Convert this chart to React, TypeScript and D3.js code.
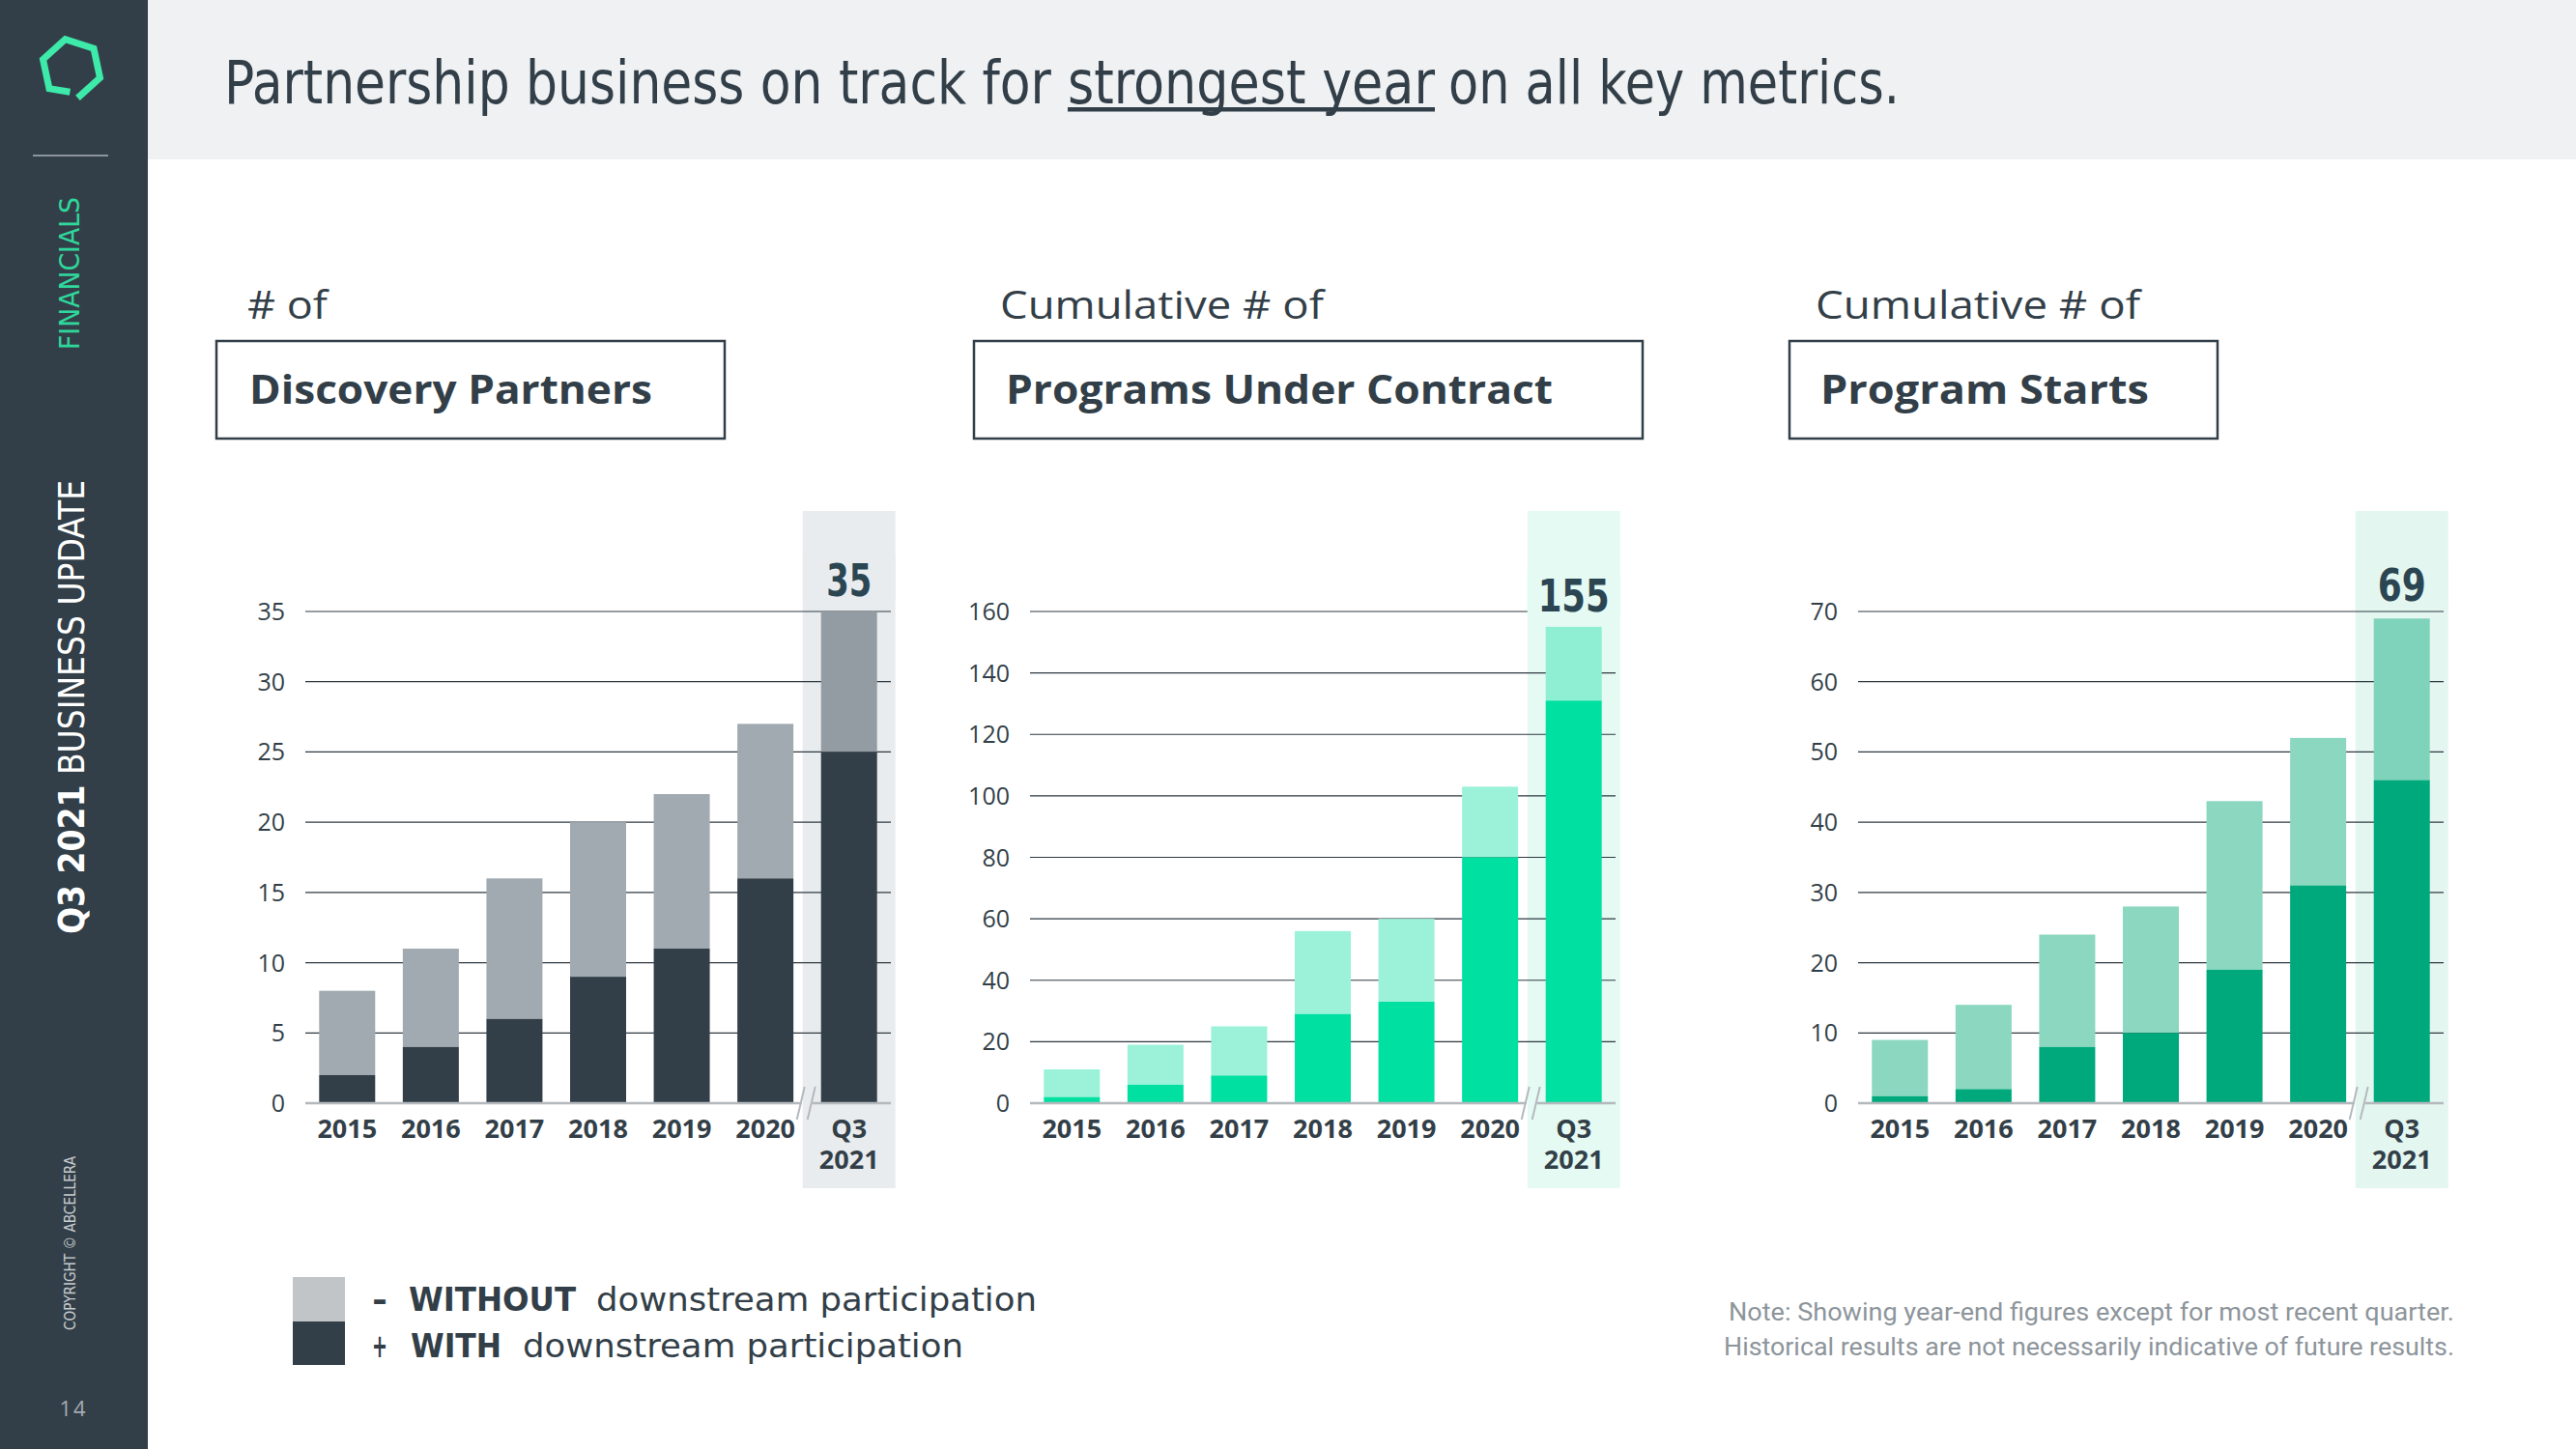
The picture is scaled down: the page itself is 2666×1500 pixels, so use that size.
import React, { useLayoutEffect, useRef, useState } from 'react';
import * as d3 from 'd3';

// ---------- data ----------
const categories = ['2015', '2016', '2017', '2018', '2019', '2020', 'Q3 2021'];

const partnersWith = [2, 4, 6, 9, 11, 16, 25];
const partnersTotal = [8, 11, 16, 20, 22, 27, 35];
const partnersTicks = [0, 5, 10, 15, 20, 25, 30, 35];

const contractWith = [2, 6, 9, 29, 33, 80, 131];
const contractTotal = [11, 19, 25, 56, 60, 103, 155];
const contractTicks = [0, 20, 40, 60, 80, 100, 120, 140, 160];

const startsWith = [1, 2, 8, 10, 19, 31, 46];
const startsTotal = [9, 14, 24, 28, 43, 52, 69];
const startsTicks = [0, 10, 20, 30, 40, 50, 60, 70];

const legendLabels = ['WITHOUT', 'WITH'];
const noteLines = [
  'Note: Showing year-end figures except for most recent quarter.',
  'Historical results are not necessarily indicative of future results.',
];
const titleParts = ['Partnership business on track for', 'strongest year', 'on all key metrics.'];

// ---------- styling ----------
const SLATE = '#333f48';
const COND = "'DejaVu Sans Condensed', Roboto, sans-serif";
const SANS = "'Open Sans', Lato, sans-serif";

const panels = [
  {
    prefix: '# of', prefixLen: 83, title: 'Discovery Partners', titleLen: 417,
    boxX: 224, boxW: 526, textX: 256, boldX: 258,
    x0: 316, withV: partnersWith, totalV: partnersTotal, ticks: partnersTicks,
    band: '#e9ecee', light: '#a1aab0', lightLast: '#949ca3', dark: '#333f48',
    labelY: 617, labelLen: 47,
  },
  {
    prefix: 'Cumulative # of', prefixLen: 335, title: 'Programs Under Contract', titleLen: 566,
    boxX: 1008, boxW: 692, textX: 1035, boldX: 1041,
    x0: 1066, withV: contractWith, totalV: contractTotal, ticks: contractTicks,
    band: '#e4faf3', light: '#9bf2d8', lightLast: '#8eefd2', dark: '#00e0a0',
    labelY: 633, labelLen: 74,
  },
  {
    prefix: 'Cumulative # of', prefixLen: 336, title: 'Program Starts', titleLen: 340,
    boxX: 1852, boxW: 443, textX: 1879, boldX: 1884,
    x0: 1923, withV: startsWith, totalV: startsTotal, ticks: startsTicks,
    band: '#e4f6f0', light: '#8bd7c0', lightLast: '#7fd3ba', dark: '#00a97b',
    labelY: 622, labelLen: 50,
  },
];

const Y0 = 1142;
const YTOP = 633;
const GRID_W = 606;

// text horizontally scaled to an exact width (keeps its bounding box honest)
function FitText({ x, y, width, children, ...rest }: any) {
  const ref = useRef<SVGTextElement>(null);
  const [k, setK] = useState(1);
  useLayoutEffect(() => {
    if (ref.current) {
      const w = ref.current.getComputedTextLength();
      if (w > 0) setK(width / w);
    }
  }, [width]);
  return (
    <text ref={ref} transform={`translate(${x},${y}) scale(${k},1)`} {...rest}>{children}</text>
  );
}

function Panel({ p }: { p: any }) {
  const x = d3.scaleBand<string>()
    .domain(categories)
    .range([p.x0, p.x0 + GRID_W])
    .paddingInner(0.33)
    .paddingOuter(0.165);
  const maxTick = p.ticks[p.ticks.length - 1];
  const y = d3.scaleLinear().domain([0, maxTick]).range([Y0, YTOP]);
  const bw = x.bandwidth();
  const last = categories[categories.length - 1];
  const bandL = (x(last) as number) - 19;
  const bandW = bw + 38;
  const lastCenter = (x(last) as number) + bw / 2;
  const total = p.totalV[p.totalV.length - 1];

  return (
    <g>
      {/* header */}
      <text x={p.textX} y={330} fontFamily={SANS} fontSize={41} fill={SLATE}
        textLength={p.prefixLen} lengthAdjust="spacingAndGlyphs">{p.prefix}</text>
      <rect x={p.boxX} y={353} width={p.boxW} height={101} fill="#fff" stroke={SLATE} strokeWidth={2.5} />
      <text x={p.boldX} y={418} fontFamily={SANS} fontWeight={700} fontSize={42} fill={SLATE}
        textLength={p.titleLen} lengthAdjust="spacingAndGlyphs">{p.title}</text>

      {/* highlight band */}
      <rect x={bandL} y={529} width={bandW} height={701} fill={p.band} />

      {/* gridlines */}
      {p.ticks.filter((t: number) => t > 0).map((t: number) => (
        <line key={t} x1={p.x0} x2={p.x0 + GRID_W} y1={y(t)} y2={y(t)} stroke="#2f3a42" strokeWidth={1.2} />
      ))}

      {/* bars */}
      {categories.map((c, i) => {
        const isLast = i === categories.length - 1;
        return (
          <g key={c}>
            <rect x={x(c)} y={y(p.totalV[i])} width={bw} height={y(p.withV[i]) - y(p.totalV[i])}
              fill={isLast ? p.lightLast : p.light} />
            <rect x={x(c)} y={y(p.withV[i])} width={bw} height={Y0 - y(p.withV[i])} fill={p.dark} />
          </g>
        );
      })}

      {/* axis with break */}
      <line x1={p.x0} x2={bandL - 1} y1={Y0} y2={Y0} stroke="#b4b9bd" strokeWidth={2.5} />
      <line x1={bandL + 10} x2={p.x0 + GRID_W} y1={Y0} y2={Y0} stroke="#b4b9bd" strokeWidth={2.5} />
      <line x1={bandL - 6} y1={Y0 + 17} x2={bandL + 2} y2={Y0 - 17} stroke="#b4b9bd" strokeWidth={2} />
      <line x1={bandL + 5} y1={Y0 + 17} x2={bandL + 13} y2={Y0 - 17} stroke="#b4b9bd" strokeWidth={2} />

      {/* y tick labels */}
      {p.ticks.map((t: number) => (
        <text key={t} x={p.x0 - 21} y={y(t)} dy="0.36em" textAnchor="end" fontFamily={SANS}
          fontSize={25} fill={SLATE}>{t}</text>
      ))}

      {/* x labels */}
      {categories.map((c) => {
        const cx = (x(c) as number) + bw / 2;
        const parts = c.split(' ');
        return (
          <text key={c} x={cx} y={1178} textAnchor="middle" fontFamily={SANS} fontWeight={700}
            fontSize={27} fill={SLATE}>
            {parts.map((s, k) => (
              <tspan key={k} x={cx} dy={k === 0 ? 0 : 32}>{s}</tspan>
            ))}
          </text>
        );
      })}

      {/* total value label */}
      <rect x={bandL} y={p.labelY - 42} width={bandW} height={46} fill={p.band} />
      <text x={lastCenter} y={p.labelY} textAnchor="middle" fontFamily={COND} fontWeight={700}
        fontSize={46} fill="#2b4652" textLength={p.labelLen} lengthAdjust="spacingAndGlyphs">{total}</text>
    </g>
  );
}

function Logo() {
  const cx = 74, cy = 71, r = 31;
  const angles = [150, 210, 270, 330, 30, 90].map((a) => a - 12);
  const pts = angles.map((a) => [cx + r * Math.cos((a * Math.PI) / 180), cy + r * Math.sin((a * Math.PI) / 180)]);
  const path = d3.line()([
    [pts[5][0] - 8, pts[5][1] - 6],
    pts[0], pts[1], pts[2], pts[3], pts[4], pts[5],
  ] as [number, number][]) as string;
  return <path d={path} fill="none" stroke="#3deaa9" strokeWidth={7} strokeLinejoin="miter" />;
}

export default function App() {
  return (
    <svg width={2666} height={1500} style={{ position: 'absolute', left: 0, top: 0, background: '#fff' }}>
      <rect x={0} y={0} width={2666} height={1500} fill="#fff" />
      {/* header band */}
      <rect x={153} y={0} width={2513} height={165} fill="#eff1f3" />
      {/* sidebar */}
      <rect x={0} y={0} width={153} height={1500} fill={SLATE} />
      <Logo />
      <line x1={34} x2={112} y1={161} y2={161} stroke="#aab2b8" strokeWidth={1.5} />
      <text transform="translate(82,283) rotate(-90)" textAnchor="middle" fontFamily={COND} fontWeight={300}
        fontSize={29} fill="#2fd79c" textLength={158} lengthAdjust="spacingAndGlyphs">FINANCIALS</text>
      <text transform="translate(87,732) rotate(-90)" textAnchor="middle" fontFamily={COND}
        fontSize={38} fill="#ffffff" textLength={470} lengthAdjust="spacingAndGlyphs">
        <tspan fontWeight={700}>Q3 2021</tspan> BUSINESS UPDATE
      </text>
      <text transform="translate(78,1287) rotate(-90)" textAnchor="middle" fontFamily={COND}
        fontSize={16} fill="#c7ccd0" textLength={180} lengthAdjust="spacingAndGlyphs">COPYRIGHT © ABCELLERA</text>
      <text x={76} y={1466} textAnchor="middle" fontFamily={SANS} fontSize={22} fill="#a3abb1"
        letterSpacing={2}>14</text>

      {/* title */}
      <g fontFamily={COND} fontSize={62} fill={SLATE}>
        <FitText x={232} y={107} width={856}>{titleParts[0]}</FitText>
        <FitText x={1105} y={107} width={380}>{titleParts[1]}</FitText>
        <FitText x={1499} y={107} width={467}>{titleParts[2]}</FitText>
      </g>
      <rect x={1105} y={111} width={380} height={4.5} fill={SLATE} />

      {panels.map((p, i) => <Panel key={i} p={p} />)}

      {/* legend */}
      <rect x={303} y={1322} width={54} height={46} fill="#c1c5c8" />
      <rect x={303} y={1368} width={54} height={45} fill={SLATE} />
      <g fontFamily={COND} fontSize={33} fill={SLATE}>
        <text x={385} y={1357} fontWeight={700} textLength={16} lengthAdjust="spacingAndGlyphs">-</text>
        <text x={423} y={1357} fontWeight={700} textLength={173} lengthAdjust="spacingAndGlyphs">{legendLabels[0]}</text>
        <text x={617} y={1357} textLength={456} lengthAdjust="spacingAndGlyphs">downstream participation</text>
        <text x={385} y={1405} fontWeight={700} textLength={16} lengthAdjust="spacingAndGlyphs">+</text>
        <text x={425} y={1405} fontWeight={700} textLength={94} lengthAdjust="spacingAndGlyphs">{legendLabels[1]}</text>
        <text x={541} y={1405} textLength={456} lengthAdjust="spacingAndGlyphs">downstream participation</text>
      </g>

      {/* note */}
      <g fontFamily="Roboto, sans-serif" fontSize={25} fill="#8d959b" textAnchor="end">
        <text x={2540} y={1367} textLength={751} lengthAdjust="spacingAndGlyphs">{noteLines[0]}</text>
        <text x={2540} y={1403} textLength={756} lengthAdjust="spacingAndGlyphs">{noteLines[1]}</text>
      </g>
    </svg>
  );
}
